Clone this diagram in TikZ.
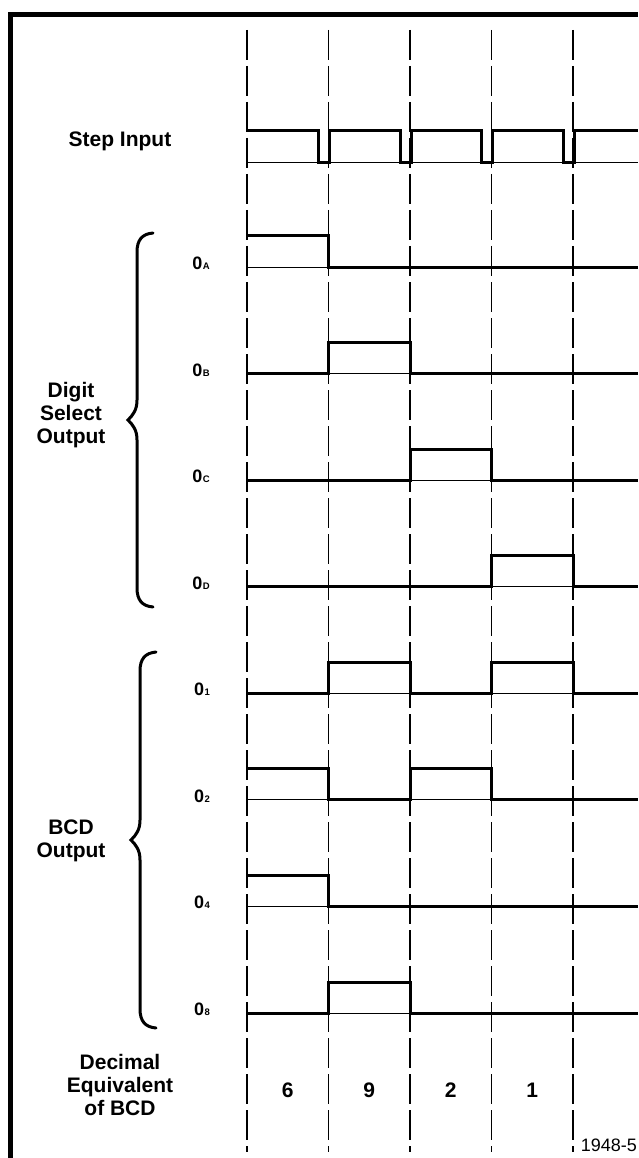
\documentclass[tikz,border=0pt]{standalone}
\usepackage{fontspec}
\setmainfont{Liberation Sans}

\begin{document}
\begin{tikzpicture}[x=1pt, y=-1pt,
    txt/.style={font=\fontsize{21}{23}\selectfont\bfseries, align=center, inner sep=0pt},
    outlbl/.style={font=\fontsize{18}{18}\selectfont\bfseries, anchor=base east, inner sep=0pt},
    gridline/.style={line width=1.1pt, dash pattern=on 30pt off 6pt},
    sigline/.style={line width=3pt, line join=miter, line cap=butt},
    thinbase/.style={line width=1pt},
    framerule/.style={line width=5pt},
    curly/.style={line width=3pt, line cap=round}]

    \useasboundingbox (0,0) rectangle (638,1158);

    % Frame:
    \draw[framerule] (10,1158) -- (10,15) -- (638,15);

    % Clock lines:
    \foreach \i in {0,...,4}
        \draw[gridline] (247+81.5*\i,30) -- (247+81.5*\i,1152);

    % Step input:
    \draw[thinbase] (247,162.7) -- (638,162.7);
    \draw[sigline] (247,130.7) \foreach \x in {328.5,410,491.5,573} {
        -- (\x-10,130.7) -- (\x-10,162.7) -- (\x+1,162.7) -- (\x+1,130.7) } -- (638,130.7);
    \node[txt, anchor=base] (step) at (120,147) {Step Input};

    % Outputs:
    \foreach \name/\sub/\levels [count=\row from 0] in {oa/A/{1,0,0,0,0}, ob/B/{0,1,0,0,0},
            oc/C/{0,0,1,0,0}, od/D/{0,0,0,1,0}, o1/1/{0,1,0,1,0}, o2/2/{1,0,1,0,0},
            o4/4/{1,0,0,0,0}, o8/8/{0,1,0,0,0}} {
        \pgfmathsetmacro\L{267+106.57*\row}
        \pgfmathsetmacro\first{{\levels}[0]}
        \draw[thinbase] (247,\L) -- (638,\L);
        \draw[sigline] (247,{\L-31*\first}) \foreach \lev [count=\i] in \levels {
            -- ({247+81.5*(\i-1)},{\L-31*\lev}) -- ({min(247+81.5*\i,638)},{\L-31*\lev}) };
        \node[outlbl] (\name) at (210,\L+2.5) {0\kern0.5pt{\fontsize{9.5}{9.5}\selectfont\sub}};
    }

    % Braces:
    \foreach \top/\bot/\xv in {233/607/137, 652/1028/140} {
        \pgfmathsetmacro\mid{(\top+\bot)/2}
        \draw[curly] (\xv+16,\top) .. controls (\xv+5,\top+1) and (\xv,\top+7) .. (\xv,\top+19)
            -- (\xv,\mid-20) .. controls (\xv,\mid-10) and (\xv-4,\mid-5) .. (\xv-9,\mid)
            .. controls (\xv-4,\mid+5) and (\xv,\mid+10) .. (\xv,\mid+20)
            -- (\xv,\bot-19) .. controls (\xv,\bot-7) and (\xv+5,\bot-1) .. (\xv+16,\bot);
    }
    \node[txt] (digitsel) at (71,415) {Digit\\Select\\Output};
    \node[txt] (bcdout) at (71,841) {BCD\\Output};

    % Decimal equivalent:
    \node[txt] (decimal) at (120,1085) {Decimal\\Equivalent\\of BCD};
    \foreach \d [count=\c from 0] in {6,9,2,1}
        \node[txt, anchor=base] (dec-\d) at (287.75+81.5*\c,1097) {\d};

    \node[font=\fontsize{18}{18}\selectfont, anchor=base east, inner sep=0pt] (figno) at (637,1151) {1948-5};
\end{tikzpicture}
\end{document}
